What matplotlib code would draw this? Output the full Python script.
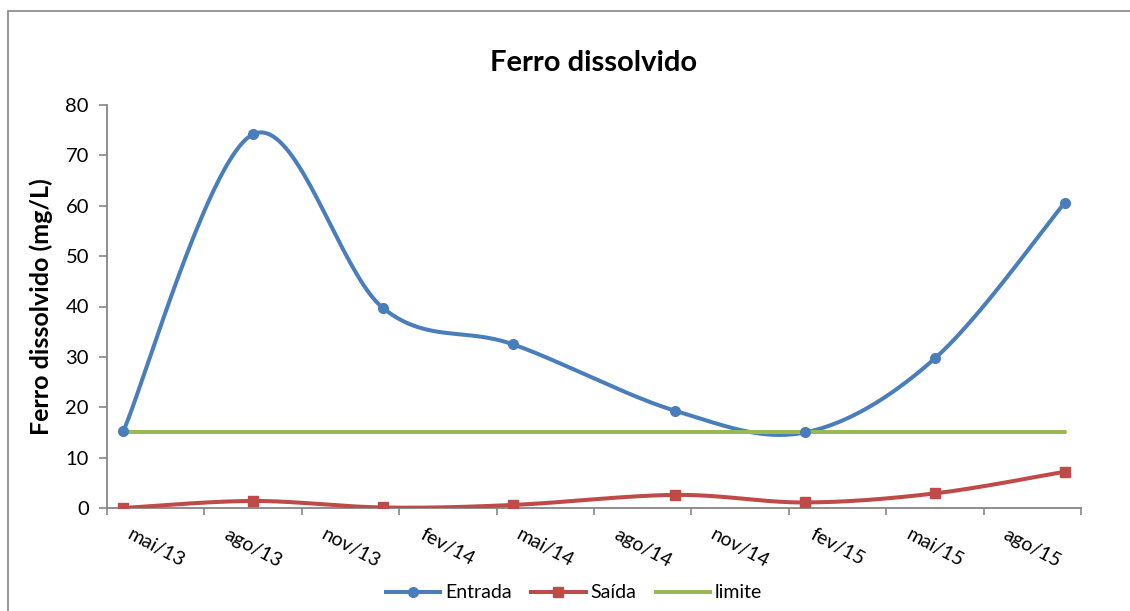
import matplotlib

matplotlib.use("Agg")

import matplotlib.pyplot as plt
import numpy as np
from matplotlib.patches import Rectangle

plt.rcParams["font.family"] = ["Lato", "DejaVu Sans"]

# months counted from mai/2013 (slot 0)
months = [0, 4, 8, 12, 17, 21, 25, 29]
entrada = [15.2, 74.2, 39.7, 32.5, 19.3, 15.0, 29.7, 60.6]
saida = [0.0, 1.4, 0.1, 0.6, 2.6, 1.1, 2.9, 7.2]
limite = [15, 15, 15, 15, 15, 15, 15, 15]
tick_labels = ["mai/13", "ago/13", "nov/13", "fev/14", "mai/14",
               "ago/14", "nov/14", "fev/15", "mai/15", "ago/15"]

BLUE = "#4A7EBB"
RED = "#BE4B48"
GREEN = "#98B954"
AXIS = "#868686"


def smooth(xs, ys, n=40):
    # Catmull-Rom style bezier, like Excel's smoothed line
    p = np.column_stack([xs, ys]).astype(float)
    ext = np.vstack([p[0], p, p[-1]])
    t = np.linspace(0, 1, n)[:, None]
    out = []
    for i in range(len(p) - 1):
        p0, p1, p2, p3 = ext[i], ext[i + 1], ext[i + 2], ext[i + 3]
        c1 = p1 + (p2 - p0) / 6
        c2 = p2 - (p3 - p1) / 6
        seg = ((1 - t) ** 3) * p1 + 3 * ((1 - t) ** 2) * t * c1 + 3 * (1 - t) * t ** 2 * c2 + t ** 3 * p2
        out.append(seg if i == 0 else seg[1:])
    out = np.vstack(out)
    return out[:, 0], out[:, 1]


fig = plt.figure(figsize=(11.3, 6.11), dpi=100)
fig.patch.set_facecolor("white")
ax = fig.add_axes([107 / 1130, 1 - 508 / 611, (1081 - 107) / 1130, (508 - 105) / 611])

x = np.array(months) + 0.5
series = [
    ("Entrada", entrada, BLUE, "o", 7),
    ("Saída", saida, RED, "s", 6.5),
    ("limite", limite, GREEN, None, 0),
]
handles = []
for name, vals, color, marker, ms in series:
    sx, sy = smooth(x, vals)
    ax.plot(sx, sy, color=color, lw=2.9, solid_capstyle="round", zorder=3)
    if marker:
        ax.plot(x, vals, ls="none", marker=marker, ms=ms, color=color, zorder=4)
    (h,) = ax.plot([], [], color=color, lw=2.9, marker=marker, ms=ms)
    handles.append(h)

ax.set_xlim(0, 30)
ax.set_ylim(0, 80)
ax.set_yticks(np.arange(0, 81, 10))
ax.set_xticks(np.arange(0, 31, 3))
ax.set_xticklabels([])
ax.set_xticks(np.arange(1.5, 30, 3), minor=True)
ax.set_xticklabels(tick_labels, minor=True, rotation=-28, ha="center", va="top",
                   fontsize=14)
ax.tick_params(axis="x", which="minor", length=0, pad=13)
ax.tick_params(axis="x", which="major", length=5, width=1.2, color=AXIS, direction="out")
ax.tick_params(axis="y", length=6, width=1.2, color=AXIS, direction="out",
               labelsize=14.5, pad=7)

for s in ("top", "right"):
    ax.spines[s].set_visible(False)
for s in ("left", "bottom"):
    ax.spines[s].set_color(AXIS)
    ax.spines[s].set_linewidth(1.3)

ax.set_ylabel("Ferro dissolvido (mg/L)", fontsize=18, fontweight="bold", labelpad=9)
fig.text(594 / 1130, 1 - 63 / 611, "Ferro dissolvido", ha="center", va="center",
         fontsize=21, fontweight="bold")

fig.legend(handles, ["Entrada", "Saída", "limite"], loc="center",
           bbox_to_anchor=(574 / 1130, 1 - 593 / 611), ncol=3, frameon=False,
           fontsize=14, handlelength=2.8, handletextpad=0.25, columnspacing=1.0)

fig.add_artist(Rectangle((8 / 1130, -0.1), 1.2, 1.1 - 11 / 611, transform=fig.transFigure,
                         fill=False, edgecolor=AXIS, lw=1.2))

fig.savefig("out.png", dpi=100, facecolor="white")
